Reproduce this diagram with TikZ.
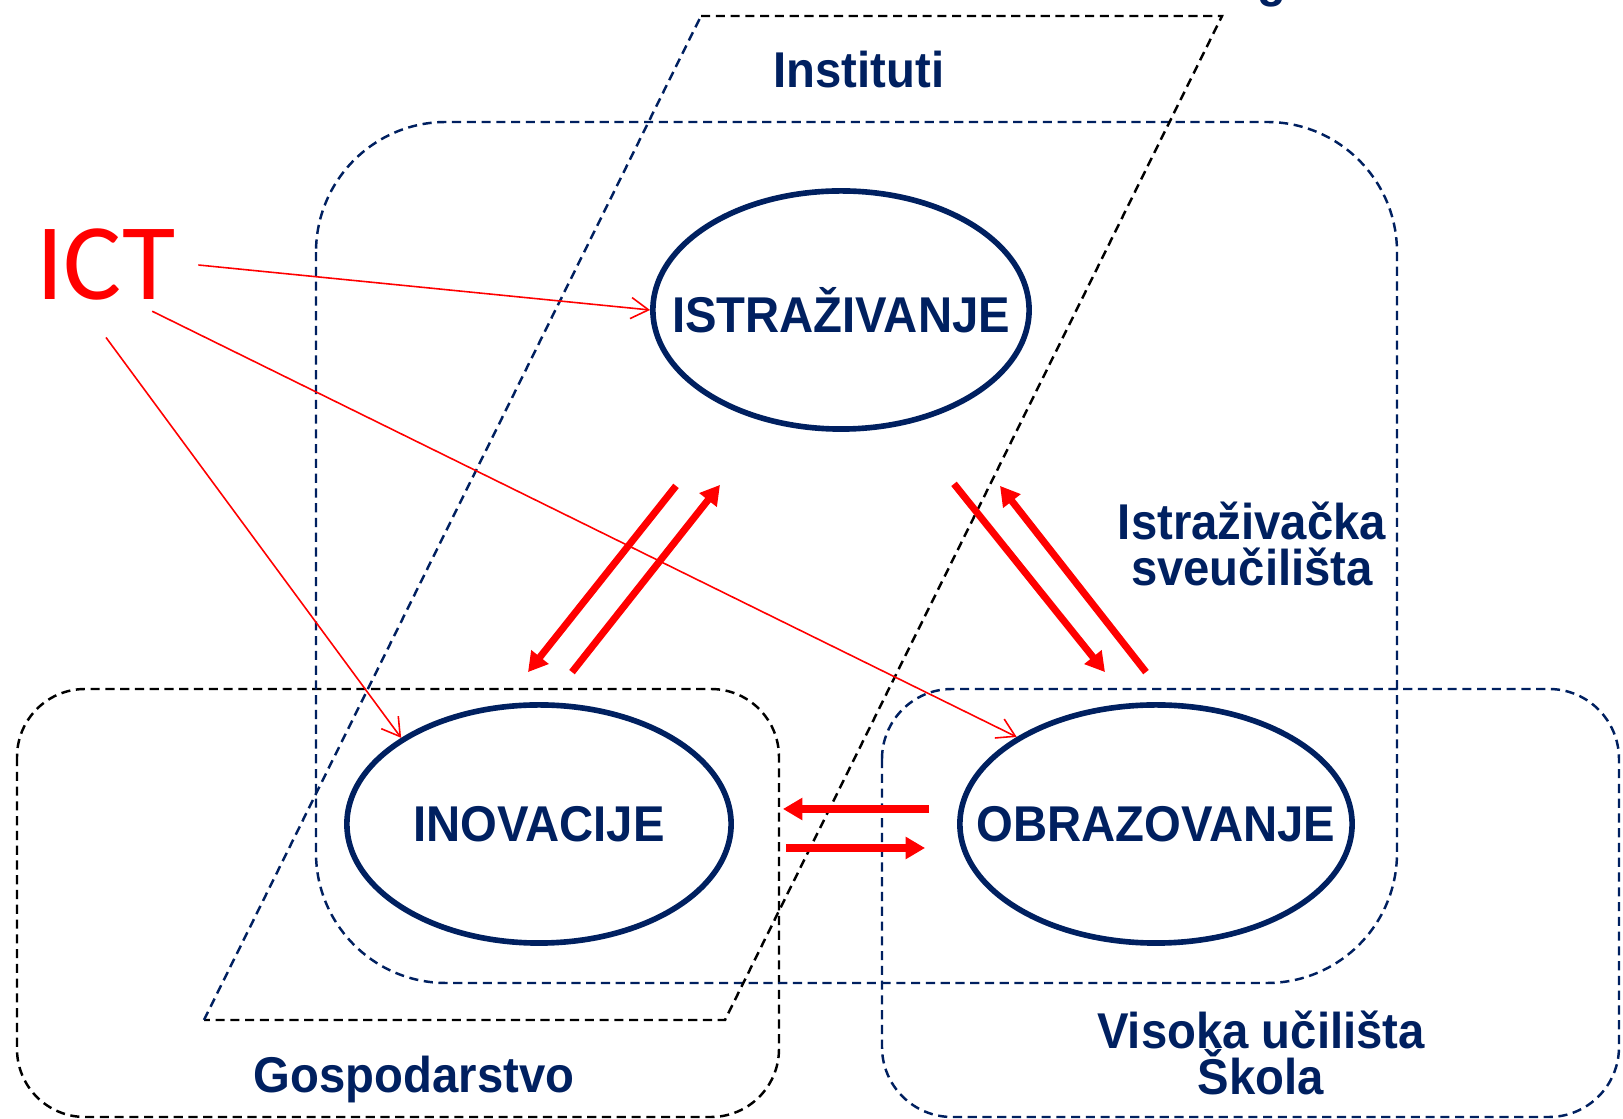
\documentclass[tikz,border=0pt]{standalone}
\usepackage{fontspec}
\setmainfont{Liberation Sans}[FakeStretch=0.94]
\newfontfamily\ictfont{Carlito}
\usepackage{xcolor}
\usepackage{tikz}
\usetikzlibrary{shapes,arrows.meta,positioning,calc}
\definecolor{navy}{RGB}{0,32,96}

\begin{document}
\begin{tikzpicture}[x=0.01cm, y=-0.01cm,
  lab/.style={text=navy, font=\fontsize{14.3}{13.1}\selectfont\bfseries, inner sep=0pt, align=center},
  oval/.style={draw=navy, line width=1.6pt, ellipse, minimum height=2.38cm, inner sep=0pt},
  blk/.style={draw=black, line width=0.7pt, dash pattern=on 2.6pt off 1.6pt},
  nvy/.style={draw=navy, line width=0.7pt, dash pattern=on 2.6pt off 1.6pt},
  ictarrow/.style={red, line width=0.45pt, -{Straight Barb[length=5pt,width=6pt]}},
  flow/.style={red, line width=2pt, -{Triangle[length=5.5pt,width=6pt]}}]
  \clip (0,0) rectangle (1623,1119);

  % regions
  \draw[blk, rounded corners=0.68cm] (17,689) rectangle (779,1117);
  \draw[nvy, rounded corners=0.7cm] (882,689) rectangle (1619,1117);
  \draw[nvy, rounded corners=1.3cm] (316,122) rectangle (1397,983);
  \draw[blk] (701,16) -- (1222,16) -- (725,1020) -- (204,1020);
  \draw[nvy] (204,1020) -- (701,16);

  % ovals
  \node[oval, minimum width=3.76cm] (istr) at (841,310) {};
  \node[oval, minimum width=3.84cm] (inov) at (539,824) {};
  \node[oval, minimum width=3.92cm] (obr) at (1156,824) {};
  \node[lab] (istrtxt) at (istr) {ISTRAŽIVANJE};
  \node[lab] (inovtxt) at (inov) {INOVACIJE};
  \node[lab] (obrtxt) at (obr) {OBRAZOVANJE};

  % region names
  \node[lab] (inst) at (859,70) {Instituti};
  \node[lab] (isv) at (1252,544) {Istraživačka\\sveučilišta};
  \node[lab] (vis) at (1261,1053) {Visoka učilišta\\Škola};
  \node[lab] (gosp) at (414,1080) {Gospodarstvo};
  \node[lab, anchor=base] (gfrag) at (1272,-3) {g};

  \node[text=red, font=\ictfont\fontsize{31}{31}\selectfont, inner xsep=0.22cm, inner ysep=0.36cm] (ict) at (106,265) {ICT};

  \draw[ictarrow] (ict.east) -- (istr.west);
  \draw[ictarrow] ($(ict.south)!.5!(ict.east)+(0,10)$) -- (obr.148);
  \draw[ictarrow] (ict.south) -- (inov.148);

  % flows between ovals
  \draw[flow] ($(istr.south)+(-165,54)$) -- ($(inov.north)+(-11,-30)$);
  \draw[flow] ($(inov.north)+(33,-30)$) -- ($(istr.south)+(-121,53)$);
  \draw[flow] ($(istr.south)+(113,52)$) -- ($(obr.north)+(-51,-30)$);
  \draw[flow] ($(obr.north)+(-10,-30)$) -- ($(istr.south)+(159,54)$);
  \draw[flow] ($(obr.west)+(-28,-15)$) -- ($(inov.east)+(49,-15)$);
  \draw[flow] ($(inov.east)+(52,24)$) -- ($(obr.west)+(-32,24)$);
\end{tikzpicture}
\end{document}
